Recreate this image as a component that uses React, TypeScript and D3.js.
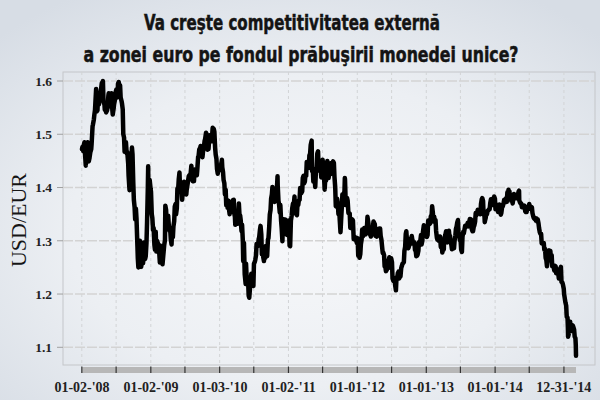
import React from 'react';
import * as d3 from 'd3';

const W = 600;
const H = 400;

const titleLines = ['Va creşte competitivitatea externă', 'a zonei euro pe fondul prăbuşirii monedei unice?'];
const yAxisTitle = 'USD/EUR';
const yTicks = [1.1, 1.2, 1.3, 1.4, 1.5, 1.6];
const xLabels = ["01-02-'08", "01-02-'09", "01-03-'10", "01-02-'11", "01-01-'12", "01-01-'13", "01-01-'14", "12-31-'14"];

type Row = [string, number];

const r2008: Row[] = [["01-02",1.472],["01-04",1.476],["01-09",1.468],["01-11",1.479],["01-15",1.485],["01-18",1.463],["01-22",1.441],["01-25",1.468],["01-30",1.482],["02-01",1.485],["02-07",1.449],["02-11",1.456],["02-15",1.466],["02-20",1.472],["02-22",1.482],["02-27",1.515],["02-29",1.518],["03-05",1.528],["03-07",1.535],["03-11",1.546],["03-14",1.566],["03-17",1.585],["03-20",1.543],["03-24",1.545],["03-28",1.578],["04-01",1.556],["04-04",1.573],["04-08",1.574],["04-11",1.581],["04-16",1.596],["04-18",1.582],["04-22",1.600],["04-25",1.561],["04-30",1.556],["05-02",1.546],["05-06",1.555],["05-09",1.541],["05-14",1.545],["05-16",1.549],["05-21",1.573],["05-23",1.577],["05-28",1.558],["05-30",1.554],["06-03",1.552],["06-06",1.577],["06-11",1.545],["06-13",1.537],["06-18",1.549],["06-20",1.556],["06-25",1.565],["06-27",1.577],["07-02",1.584],["07-04",1.569],["07-09",1.570],["07-11",1.595],["07-15",1.598],["07-18",1.585],["07-22",1.592],["07-25",1.569],["07-30",1.562],["08-01",1.558],["08-05",1.547],["08-08",1.500],["08-12",1.494],["08-15",1.467],["08-19",1.474],["08-22",1.485],["08-26",1.464],["08-29",1.467],["09-03",1.445],["09-05",1.423],["09-10",1.395],["09-12",1.421],["09-16",1.419],["09-19",1.447],["09-23",1.475],["09-26",1.462],["09-30",1.409],["10-03",1.377],["10-07",1.363],["10-10",1.340],["10-14",1.360],["10-17",1.342],["10-22",1.289],["10-24",1.267],["10-27",1.250],["10-29",1.292],["10-31",1.273],["11-04",1.300],["11-07",1.271],["11-11",1.251],["11-14",1.264],["11-18",1.266],["11-21",1.258],["11-25",1.297],["11-28",1.269],["12-02",1.266],["12-05",1.271],["12-09",1.296],["12-12",1.334],["12-16",1.397],["12-18",1.440],["12-19",1.394],["12-23",1.396],["12-26",1.414],["12-31",1.397]];

const r2009: Row[] = [["01-02",1.392],["01-06",1.350],["01-09",1.343],["01-13",1.320],["01-16",1.324],["01-20",1.292],["01-23",1.283],["01-27",1.317],["01-30",1.280],["02-03",1.300],["02-06",1.297],["02-10",1.293],["02-13",1.287],["02-18",1.259],["02-20",1.291],["02-24",1.286],["02-27",1.267],["03-02",1.261],["03-04",1.256],["03-06",1.264],["03-10",1.280],["03-13",1.292],["03-17",1.301],["03-19",1.366],["03-23",1.358],["03-27",1.328],["03-31",1.324],["04-03",1.347],["04-07",1.325],["04-10",1.319],["04-14",1.320],["04-17",1.302],["04-21",1.293],["04-24",1.324],["04-28",1.307],["05-01",1.327],["05-05",1.337],["05-08",1.364],["05-12",1.369],["05-15",1.350],["05-19",1.361],["05-22",1.398],["05-26",1.396],["05-29",1.415],["06-02",1.428],["06-05",1.398],["06-09",1.402],["06-12",1.404],["06-16",1.377],["06-19",1.390],["06-23",1.404],["06-26",1.411],["06-30",1.409],["07-03",1.397],["07-08",1.387],["07-10",1.395],["07-14",1.404],["07-17",1.411],["07-21",1.421],["07-24",1.423],["07-28",1.416],["07-31",1.426],["08-04",1.441],["08-07",1.419],["08-11",1.412],["08-14",1.420],["08-18",1.412],["08-21",1.434],["08-25",1.430],["08-28",1.430],["09-02",1.423],["09-04",1.431],["09-09",1.458],["09-11",1.458],["09-15",1.472],["09-18",1.472],["09-22",1.478],["09-25",1.467],["09-30",1.464],["10-02",1.457],["10-06",1.472],["10-09",1.474],["10-13",1.487],["10-16",1.491],["10-21",1.503],["10-23",1.501],["10-28",1.471],["10-30",1.472],["11-03",1.472],["11-06",1.487],["11-10",1.498],["11-13",1.489],["11-17",1.489],["11-20",1.487],["11-25",1.512],["11-27",1.500],["12-01",1.510],["12-04",1.505],["12-08",1.475],["12-11",1.462],["12-15",1.454],["12-18",1.435],["12-22",1.426],["12-24",1.437],["12-29",1.438],["12-31",1.432]];

const r2010: Row[] = [["01-04",1.442],["01-08",1.441],["01-13",1.452],["01-15",1.438],["01-19",1.429],["01-22",1.414],["01-26",1.408],["01-29",1.387],["02-02",1.396],["02-05",1.367],["02-09",1.377],["02-12",1.362],["02-17",1.375],["02-19",1.361],["02-23",1.350],["02-26",1.362],["03-02",1.359],["03-05",1.362],["03-09",1.355],["03-12",1.376],["03-17",1.377],["03-19",1.353],["03-23",1.345],["03-25",1.330],["03-31",1.351],["04-06",1.332],["04-09",1.345],["04-13",1.370],["04-16",1.350],["04-20",1.347],["04-23",1.338],["04-27",1.318],["04-30",1.330],["05-04",1.300],["05-06",1.262],["05-10",1.296],["05-14",1.237],["05-19",1.219],["05-21",1.257],["05-25",1.225],["05-28",1.226],["06-01",1.224],["06-04",1.197],["06-07",1.193],["06-11",1.211],["06-15",1.229],["06-18",1.238],["06-22",1.225],["06-25",1.228],["06-29",1.215],["07-02",1.257],["07-06",1.260],["07-09",1.264],["07-13",1.273],["07-16",1.294],["07-20",1.292],["07-23",1.290],["07-27",1.303],["07-30",1.307],["08-03",1.321],["08-06",1.328],["08-10",1.312],["08-13",1.275],["08-17",1.288],["08-20",1.270],["08-24",1.262],["08-27",1.276],["08-31",1.268],["09-03",1.290],["09-07",1.271],["09-10",1.271],["09-14",1.302],["09-17",1.305],["09-21",1.327],["09-24",1.349],["09-28",1.358],["10-01",1.379],["10-05",1.387],["10-08",1.401],["10-12",1.392],["10-15",1.397],["10-19",1.373],["10-22",1.396],["10-26",1.389],["10-29",1.394],["11-02",1.406],["11-04",1.421],["11-05",1.404],["11-09",1.375],["11-12",1.369],["11-16",1.353],["11-19",1.367],["11-23",1.337],["11-26",1.324],["11-30",1.299],["12-03",1.341],["12-07",1.324],["12-10",1.323],["12-14",1.340],["12-17",1.322],["12-21",1.312],["12-24",1.311],["12-28",1.315],["12-31",1.338]];

const r2011: Row[] = [["01-03",1.334],["01-07",1.291],["01-10",1.290],["01-14",1.338],["01-18",1.347],["01-21",1.361],["01-25",1.370],["01-28",1.361],["02-02",1.383],["02-04",1.358],["02-08",1.366],["02-11",1.350],["02-15",1.348],["02-18",1.370],["02-22",1.367],["02-25",1.376],["03-01",1.377],["03-04",1.399],["03-08",1.391],["03-11",1.390],["03-15",1.393],["03-18",1.418],["03-22",1.422],["03-25",1.408],["03-29",1.411],["04-01",1.423],["04-05",1.422],["04-08",1.448],["04-12",1.448],["04-15",1.443],["04-19",1.437],["04-22",1.460],["04-26",1.464],["04-29",1.480],["05-04",1.488],["05-06",1.431],["05-10",1.436],["05-13",1.411],["05-17",1.418],["05-20",1.416],["05-23",1.401],["05-27",1.432],["05-31",1.439],["06-03",1.464],["06-07",1.468],["06-10",1.434],["06-14",1.440],["06-17",1.431],["06-21",1.438],["06-24",1.419],["06-28",1.436],["07-01",1.452],["07-05",1.441],["07-08",1.425],["07-12",1.396],["07-15",1.415],["07-19",1.413],["07-22",1.438],["07-26",1.450],["07-29",1.439],["08-02",1.418],["08-05",1.428],["08-09",1.441],["08-12",1.425],["08-16",1.446],["08-19",1.440],["08-23",1.447],["08-26",1.449],["08-30",1.446],["09-02",1.420],["09-06",1.400],["09-09",1.365],["09-12",1.364],["09-16",1.379],["09-20",1.369],["09-23",1.350],["09-27",1.359],["09-30",1.339],["10-04",1.316],["10-07",1.337],["10-11",1.363],["10-14",1.387],["10-18",1.373],["10-21",1.389],["10-25",1.392],["10-27",1.418],["10-28",1.414],["11-01",1.367],["11-04",1.379],["11-08",1.380],["11-11",1.375],["11-15",1.352],["11-18",1.352],["11-22",1.351],["11-25",1.324],["11-29",1.338],["12-02",1.338],["12-06",1.340],["12-09",1.338],["12-13",1.303],["12-16",1.304],["12-20",1.307],["12-23",1.305],["12-28",1.298],["12-30",1.296]];

const r2012: Row[] = [["01-03",1.305],["01-06",1.272],["01-10",1.279],["01-13",1.268],["01-17",1.275],["01-20",1.293],["01-24",1.302],["01-27",1.321],["01-31",1.308],["02-03",1.316],["02-07",1.324],["02-10",1.319],["02-14",1.312],["02-17",1.315],["02-21",1.323],["02-24",1.345],["02-29",1.333],["03-02",1.319],["03-06",1.314],["03-09",1.312],["03-13",1.308],["03-16",1.318],["03-20",1.322],["03-23",1.323],["03-27",1.336],["03-30",1.334],["04-03",1.331],["04-06",1.309],["04-10",1.309],["04-13",1.308],["04-17",1.319],["04-20",1.322],["04-24",1.318],["04-27",1.323],["05-01",1.323],["05-04",1.309],["05-08",1.302],["05-11",1.291],["05-15",1.277],["05-18",1.278],["05-22",1.273],["05-25",1.252],["05-29",1.251],["06-01",1.243],["06-05",1.245],["06-08",1.252],["06-12",1.251],["06-15",1.263],["06-19",1.269],["06-22",1.257],["06-26",1.249],["06-29",1.267],["07-03",1.260],["07-06",1.229],["07-10",1.225],["07-13",1.224],["07-17",1.229],["07-20",1.216],["07-24",1.207],["07-27",1.231],["07-31",1.231],["08-03",1.239],["08-07",1.242],["08-10",1.229],["08-14",1.233],["08-17",1.233],["08-21",1.249],["08-24",1.252],["08-28",1.257],["08-31",1.258],["09-04",1.260],["09-07",1.281],["09-11",1.289],["09-14",1.313],["09-17",1.318],["09-21",1.298],["09-25",1.292],["09-28",1.286],["10-02",1.291],["10-05",1.304],["10-09",1.294],["10-12",1.296],["10-16",1.309],["10-19",1.302],["10-23",1.296],["10-26",1.294],["10-30",1.297],["11-02",1.283],["11-06",1.281],["11-09",1.271],["11-13",1.272],["11-16",1.274],["11-20",1.281],["11-23",1.297],["11-27",1.294],["11-30",1.299],["12-04",1.311],["12-07",1.293],["12-11",1.300],["12-14",1.316],["12-19",1.329],["12-21",1.318],["12-24",1.319],["12-28",1.322],["12-31",1.319]];

const r2013: Row[] = [["01-02",1.318],["01-04",1.307],["01-08",1.311],["01-11",1.338],["01-15",1.338],["01-18",1.331],["01-22",1.333],["01-25",1.346],["01-29",1.346],["02-01",1.365],["02-05",1.352],["02-08",1.336],["02-12",1.345],["02-15",1.336],["02-19",1.339],["02-22",1.319],["02-26",1.306],["03-01",1.302],["03-05",1.308],["03-08",1.300],["03-12",1.303],["03-15",1.308],["03-19",1.288],["03-22",1.299],["03-27",1.278],["03-29",1.282],["04-02",1.283],["04-04",1.284],["04-05",1.299],["04-09",1.307],["04-12",1.311],["04-16",1.318],["04-19",1.305],["04-23",1.297],["04-26",1.303],["05-01",1.319],["05-03",1.311],["05-07",1.309],["05-10",1.299],["05-14",1.292],["05-17",1.284],["05-21",1.292],["05-24",1.293],["05-28",1.286],["05-31",1.300],["06-04",1.309],["06-07",1.322],["06-11",1.327],["06-14",1.334],["06-18",1.339],["06-21",1.312],["06-25",1.313],["06-28",1.301],["07-02",1.300],["07-05",1.283],["07-09",1.279],["07-12",1.307],["07-16",1.317],["07-19",1.314],["07-23",1.322],["07-26",1.328],["07-30",1.326],["08-02",1.328],["08-06",1.330],["08-09",1.334],["08-13",1.327],["08-16",1.334],["08-20",1.341],["08-23",1.338],["08-27",1.340],["08-30",1.322],["09-03",1.318],["09-06",1.318],["09-10",1.327],["09-13",1.329],["09-17",1.336],["09-20",1.352],["09-24",1.348],["09-27",1.352],["10-01",1.358],["10-04",1.355],["10-08",1.358],["10-11",1.354],["10-15",1.350],["10-18",1.369],["10-22",1.378],["10-25",1.380],["10-29",1.375],["11-01",1.349],["11-05",1.351],["11-07",1.335],["11-08",1.337],["11-12",1.343],["11-15",1.350],["11-19",1.350],["11-22",1.356],["11-26",1.357],["11-29",1.359],["12-03",1.359],["12-06",1.370],["12-10",1.378],["12-13",1.374],["12-18",1.379],["12-20",1.367],["12-24",1.369],["12-27",1.383],["12-31",1.379]];

const r2014: Row[] = [["01-03",1.359],["01-07",1.361],["01-10",1.367],["01-14",1.367],["01-17",1.354],["01-21",1.356],["01-24",1.368],["01-28",1.367],["01-31",1.349],["02-03",1.352],["02-07",1.363],["02-11",1.365],["02-14",1.369],["02-18",1.377],["02-21",1.374],["02-25",1.373],["02-28",1.380],["03-04",1.373],["03-07",1.391],["03-11",1.387],["03-13",1.396],["03-14",1.391],["03-18",1.393],["03-21",1.378],["03-25",1.383],["03-28",1.375],["04-01",1.379],["04-04",1.370],["04-08",1.380],["04-11",1.388],["04-15",1.382],["04-18",1.381],["04-22",1.380],["04-25",1.383],["04-29",1.386],["05-02",1.387],["05-06",1.393],["05-08",1.394],["05-09",1.376],["05-13",1.372],["05-16",1.370],["05-20",1.370],["05-23",1.363],["05-27",1.363],["05-30",1.363],["06-03",1.363],["06-05",1.366],["06-06",1.364],["06-10",1.355],["06-13",1.354],["06-17",1.354],["06-20",1.360],["06-24",1.360],["06-27",1.364],["07-01",1.369],["07-04",1.360],["07-08",1.361],["07-11",1.361],["07-15",1.363],["07-18",1.352],["07-22",1.346],["07-25",1.343],["07-29",1.341],["08-01",1.343],["08-05",1.338],["08-08",1.342],["08-12",1.336],["08-15",1.340],["08-19",1.333],["08-22",1.324],["08-26",1.316],["08-29",1.313],["09-02",1.313],["09-05",1.295],["09-09",1.295],["09-12",1.296],["09-16",1.296],["09-19",1.283],["09-23",1.285],["09-26",1.268],["09-30",1.263],["10-03",1.252],["10-07",1.265],["10-10",1.263],["10-15",1.282],["10-17",1.276],["10-21",1.281],["10-24",1.267],["10-28",1.273],["10-31",1.252],["11-04",1.254],["11-07",1.251],["11-11",1.244],["11-14",1.253],["11-18",1.252],["11-21",1.239],["11-25",1.247],["11-28",1.245],["12-02",1.238],["12-05",1.229],["12-09",1.238],["12-12",1.246],["12-16",1.251],["12-19",1.223],["12-23",1.222],["12-26",1.219],["12-31",1.210]];

const r2015: Row[] = [["01-02",1.200],["01-05",1.193],["01-09",1.184],["01-13",1.178],["01-15",1.163],["01-16",1.157],["01-20",1.156],["01-22",1.136],["01-23",1.120],["01-26",1.124],["01-29",1.132],["01-30",1.129],["02-03",1.148],["02-06",1.132],["02-10",1.131],["02-13",1.139],["02-17",1.141],["02-20",1.138],["02-24",1.133],["02-27",1.120],["03-03",1.117],["03-05",1.103],["03-06",1.084]];

const yearRows: [number, Row[]][] = [[2008, r2008], [2009, r2009], [2010, r2010], [2011, r2011], [2012, r2012], [2013, r2013], [2014, r2014], [2015, r2015]];

type P = { date: Date; value: number };

const points: P[] = yearRows.flatMap(([yr, rows]) =>
  rows.map(([md, v]) => {
    const [m, d] = md.split('-').map(Number);
    return { date: new Date(yr, m - 1, d), value: v };
  })
);

function labelDate(s: string): Date {
  const [m, d, yy] = s.replace("'", '').split('-').map(Number);
  return new Date(2000 + yy, m - 1, d);
}

export default function App() {
  const frame = { left: 63, top: 72, right: 595, bottom: 365 };
  const x = d3.scaleTime()
    .domain([points[0].date, points[points.length - 1].date])
    .range([82, 576]);
  const y = d3.scaleLinear().domain([1.1, 1.6]).range([347.3, 81]);
  const line = d3.line<P>().x(d => x(d.date)).y(d => y(d.value));
  const gridDates = d3.timeMonth.every(6)!.range(new Date(2008, 0, 1), new Date(2015, 0, 2));

  const serif = "'Liberation Serif', 'DejaVu Serif', 'Times New Roman', serif";
  const narrow = "'Liberation Sans Narrow', 'DejaVu Sans Condensed', 'Liberation Sans', sans-serif";

  return (
    <svg width={W} height={H} style={{ position: 'absolute', left: 0, top: 0 }}>
      <defs>
        <radialGradient id="bg" cx="50%" cy="58%" r="70%">
          <stop offset="0%" stopColor="#f7f8fa" />
          <stop offset="55%" stopColor="#eceff3" />
          <stop offset="100%" stopColor="#d7dde5" />
        </radialGradient>
      </defs>
      <rect x={0} y={0} width={W} height={H} fill="url(#bg)" />

      {/* Title */}
      <g fontFamily={narrow} fontWeight={700} fill="#141414" stroke="#141414" strokeWidth={0.5}>
        <text x={292} y={30} textAnchor="middle" fontSize={22} textLength={296} lengthAdjust="spacingAndGlyphs">{titleLines[0]}</text>
        <text x={301} y={62} textAnchor="middle" fontSize={22} textLength={435} lengthAdjust="spacingAndGlyphs">{titleLines[1]}</text>
      </g>

      {/* Frame */}
      <rect x={frame.left} y={frame.top} width={frame.right - frame.left} height={frame.bottom - frame.top}
        fill="none" stroke="#c4c6c9" strokeWidth={1} />

      {/* Vertical grid */}
      {gridDates.map((d, i) => (
        <line key={'vg' + i} x1={x(d)} x2={x(d)} y1={frame.top} y2={frame.bottom}
          stroke="#d2d4d6" strokeWidth={1} strokeDasharray="3,3" />
      ))}

      {/* Horizontal grid + y ticks + labels */}
      {yTicks.map(t => (
        <g key={'y' + t}>
          <line x1={frame.left} x2={frame.right} y1={y(t)} y2={y(t)} stroke="#d3d3d3" strokeWidth={1.5} strokeDasharray="10,2" />
          <line x1={frame.left - 6} x2={frame.left} y1={y(t)} y2={y(t)} stroke="#a0a0a0" strokeWidth={1} />
          <text x={52} y={y(t)} dy="0.36em" textAnchor="end" fontFamily={serif} fontWeight={700} fontSize={13.5} fill="#222">
            {t.toFixed(1)}
          </text>
        </g>
      ))}

      {/* Y axis title */}
      <text transform="translate(19,220) rotate(-90)" textAnchor="middle" dy="0.35em"
        fontFamily={serif} fontSize={21} fill="#151515" textLength={94} lengthAdjust="spacingAndGlyphs">{yAxisTitle}</text>

      {/* Time bar */}
      <rect x={x(points[0].date)} y={367} width={x(points[points.length - 1].date) - x(points[0].date)} height={6} fill="#b7b7b7" />
      {gridDates.map((d, i) => (
        <line key={'bt' + i} x1={x(d)} x2={x(d)} y1={366.5} y2={373} stroke="#333" strokeWidth={1.2} />
      ))}

      {/* X labels */}
      {xLabels.map((s, i) => {
        const cx = Math.min(x(labelDate(s)), W - 31);
        return (
          <text key={'xl' + i} x={cx} y={392} textAnchor="middle" fontFamily={serif} fontWeight={700} fontSize={14} fill="#222">
            {s}
          </text>
        );
      })}

      {/* Series */}
      <path d={line(points) ?? ''} fill="none" stroke="#000" strokeWidth={4.5} strokeLinejoin="round" strokeLinecap="round" />
    </svg>
  );
}
